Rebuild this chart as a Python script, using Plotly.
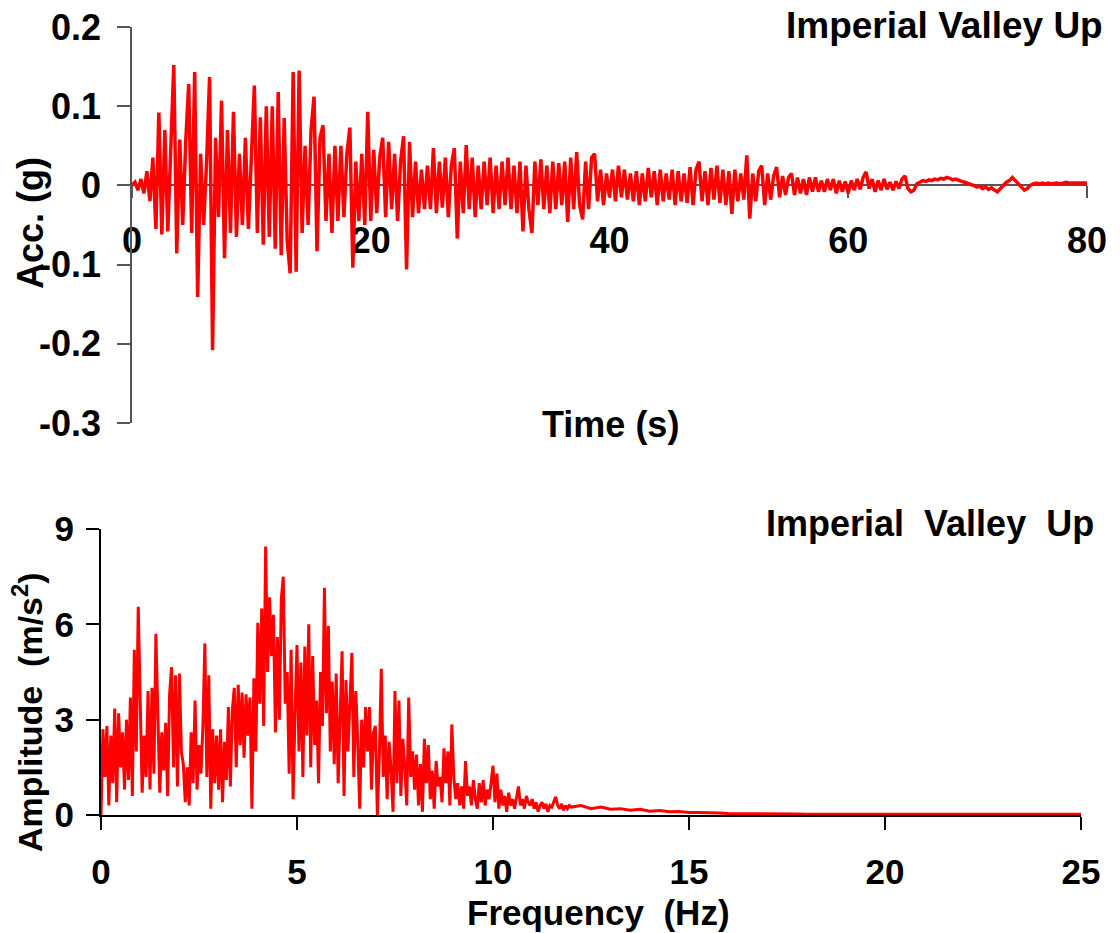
import numpy as np
import plotly.graph_objects as go

# ---------------- data ----------------
dt = 0.25
acc_g = [
    0.000, 0.004, -0.006, 0.008, -0.010, 0.018, -0.020, 0.035, -0.055, 0.092,
    -0.062, 0.070, -0.058, 0.062, 0.152, -0.086, 0.058, -0.050, 0.055, 0.128,
    -0.060, 0.143, -0.141, 0.040, -0.050, 0.030, 0.137, -0.208, 0.060, -0.040,
    0.107, -0.092, 0.070, -0.060, 0.093, -0.065, 0.040, -0.050, 0.060, -0.055,
    0.035, 0.126, -0.060, 0.086, -0.075, 0.100, -0.065, 0.100, -0.080, 0.118,
    -0.088, 0.085, -0.070, -0.111, 0.143, -0.109, 0.145, -0.060, 0.050, -0.050,
    0.070, 0.112, -0.083, 0.060, 0.076, -0.045, 0.040, -0.060, 0.050, -0.045,
    0.050, -0.040, 0.040, 0.073, -0.104, 0.030, -0.045, 0.040, -0.050, 0.093,
    -0.045, 0.045, -0.035, 0.035, 0.060, -0.040, 0.055, -0.030, 0.040, -0.045,
    0.030, 0.062, -0.106, 0.055, -0.040, 0.030, -0.035, 0.020, -0.030, 0.025,
    -0.030, 0.047, -0.035, 0.030, -0.028, 0.035, -0.040, 0.025, 0.047, -0.067,
    0.030, -0.035, 0.051, -0.030, 0.035, -0.040, 0.025, -0.030, 0.030, -0.025,
    0.035, -0.035, 0.025, -0.030, 0.030, -0.025, 0.035, -0.030, 0.025, -0.035,
    0.030, -0.058, 0.025, -0.030, -0.060, 0.030, -0.025, 0.033, -0.030, 0.025,
    -0.035, 0.030, -0.030, 0.028, -0.025, 0.030, -0.046, 0.035, -0.030, 0.042,
    -0.025, -0.043, 0.030, -0.030, 0.035, 0.040, -0.020, 0.020, -0.025, 0.015,
    -0.015, 0.020, -0.020, 0.025, -0.015, 0.020, -0.018, 0.015, -0.020, 0.018,
    -0.025, 0.015, -0.020, 0.022, -0.015, 0.018, -0.025, 0.020, -0.020, 0.015,
    -0.018, 0.020, -0.025, 0.018, -0.020, 0.015, -0.022, 0.023, -0.025, 0.020,
    0.030, -0.020, 0.018, -0.025, 0.022, -0.018, 0.025, -0.022, 0.020, -0.025,
    0.018, -0.036, 0.020, -0.020, 0.015, -0.018, 0.038, -0.042, 0.015, -0.020,
    0.018, 0.025, -0.025, 0.015, -0.018, 0.012, 0.023, -0.015, 0.012, -0.012,
    0.010, 0.015, -0.012, 0.010, -0.010, 0.008, -0.012, 0.010, -0.008, 0.010,
    -0.008, 0.006, -0.008, 0.008, -0.006, 0.008, -0.010, 0.006, -0.008, 0.005,
    -0.010, 0.006, -0.006, 0.008, -0.005, 0.010, 0.017, -0.004, 0.008, -0.008,
    0.006, -0.006, 0.008, -0.005, 0.004, -0.006, 0.005, -0.004, 0.008, 0.012,
    -0.004, -0.008, -0.006, 0.002, 0.004, 0.006, 0.005, 0.007, 0.006, 0.008,
    0.007, 0.009, 0.008, 0.010, 0.009, 0.007, 0.008, 0.006, 0.005, 0.004,
    0.003, 0.002, 0.000, -0.002, -0.001, -0.004, -0.002, -0.005, -0.003, -0.006,
    -0.008, -0.004, 0.000, 0.004, 0.006, 0.010, 0.006, 0.002, -0.003, -0.006,
    -0.004, 0.000, 0.002, 0.003, 0.002, 0.003, 0.002, 0.003, 0.002, 0.003,
    0.003, 0.002, 0.003, 0.004, 0.003, 0.003, 0.004, 0.003, 0.003, 0.004,
    0.003,
]
time_s = np.arange(len(acc_g)) * dt

# Fourier amplitude: 0-12 Hz at 0.05 Hz, 12-25 Hz at 0.25 Hz
amp_low = [
    0.0, 2.7, 1.2, 2.8, 0.3, 2.5, 1.0, 3.35, 0.4, 3.2, 1.5, 2.6, 0.8, 3.0, 1.1, 3.7, 0.6, 5.2, 2.0, 6.55,
    3.6, 0.7, 2.5, 1.2, 3.9, 0.8, 4.0, 1.3, 5.7, 2.8, 0.7, 2.6, 1.4, 2.9, 0.6, 3.8, 4.65, 1.5, 4.4, 0.9,
    4.45, 2.0, 1.6, 0.4, 1.5, 0.3, 2.6, 1.0, 3.6, 0.8, 2.2, 1.3, 2.8, 5.4, 1.2, 4.4, 0.2, 2.7, 1.0, 2.5,
    0.8, 2.7, 0.4, 2.3, 1.1, 3.4, 0.9, 3.3, 4.0, 1.5, 4.1, 2.2, 3.85, 1.8, 3.8, 2.5, 3.7, 0.2, 4.3, 2.0,
    6.05, 3.5, 6.5, 2.8, 8.45, 4.5, 6.85, 5.0, 6.3, 2.6, 5.6, 3.0, 6.8, 7.5, 3.5, 4.5, 1.3, 5.2, 0.5, 3.2,
    5.35, 2.0, 4.8, 1.2, 5.3, 2.5, 6.0, 1.5, 5.0, 2.2, 3.6, 1.0, 4.5, 2.8, 7.15, 3.2, 5.95, 2.0, 4.2, 1.6,
    4.45, 1.0, 3.2, 5.15, 0.6, 4.25, 2.0, 3.5, 5.1, 1.2, 3.9, 2.3, 0.2, 3.0, 1.5, 3.4, 2.0, 3.4, 0.8, 2.6,
    2.8, 0.0, 1.8, 4.6, 1.2, 2.5, 0.5, 2.3, 1.4, 0.1, 3.9, 1.0, 3.6, 0.6, 2.4, 1.5, 0.3, 3.7, 1.2, 2.0,
    0.8, 1.9, 0.3, 1.6, 0.1, 2.4, 1.0, 2.2, 0.5, 1.4, 0.2, 1.7, 0.9, 1.2, 0.4, 2.1, 1.0, 2.0, 0.3, 2.85,
    1.2, 0.5, 1.0, 0.3, 0.9, 0.2, 1.7, 0.6, 0.9, 0.3, 1.1, 0.5, 0.2, 1.0, 0.4, 1.1, 0.3, 0.8, 0.5, 1.0,
    1.55, 0.4, 1.3, 0.2, 0.8, 0.3, 0.6, 0.1, 0.7, 0.3, 0.5, 0.2, 0.6, 0.9, 0.3, 0.5, 0.2, 0.6, 0.4, 0.3,
    0.5, 0.2, 0.4, 0.1, 0.3, 0.4, 0.2, 0.35, 0.1, 0.3, 0.25, 0.4, 0.57, 0.3, 0.2, 0.35, 0.15, 0.3, 0.2, 0.3,
]
amp_high = [
    0.25, 0.30, 0.20, 0.25, 0.18, 0.20, 0.15, 0.18, 0.12, 0.14, 0.10, 0.11, 0.08,
    0.08, 0.06, 0.06, 0.05, 0.05, 0.04, 0.04, 0.04, 0.03, 0.03, 0.03, 0.025, 0.025,
    0.02, 0.025, 0.02, 0.02, 0.025, 0.02, 0.02, 0.02, 0.025, 0.02, 0.02, 0.02, 0.02,
    0.02, 0.02, 0.02, 0.02, 0.02, 0.02, 0.02, 0.02, 0.02, 0.02, 0.02, 0.02, 0.02, 0.02,
]
freq_low = np.arange(len(amp_low)) * 0.05
freq_high = 12.0 + np.arange(len(amp_high)) * 0.25
freq_hz = np.concatenate([freq_low, freq_high])
amplitude = amp_low + amp_high

top_y_ticks = [-0.3, -0.2, -0.1, 0, 0.1, 0.2]
top_y_text = ["-0.3", "-0.2", "-0.1", "0", "0.1", "0.2"]
top_x_ticks = [0, 20, 40, 60, 80]
bot_x_ticks = [0, 5, 10, 15, 20, 25]
bot_y_ticks = [0, 3, 6, 9]

# ---------------- figure ----------------
W, H = 1120, 933
FONT = "Liberation Sans, Arial, sans-serif"
RED = "#ff0000"

def px(x):
    return x / W

def py(y):
    return 1 - y / H

top_xdom = [px(132), px(1087)]
top_ydom = [py(423), py(27)]
bot_xdom = [px(101), px(1081)]
bot_ydom = [py(815), py(529)]
zero_pos = top_ydom[0] + 0.6 * (top_ydom[1] - top_ydom[0])

fig = go.Figure()
fig.add_trace(go.Scatter(x=time_s, y=acc_g, mode="lines",
                         line=dict(color=RED, width=3.5), xaxis="x", yaxis="y",
                         showlegend=False, hoverinfo="skip"))
fig.add_trace(go.Scatter(x=freq_hz, y=amplitude, mode="lines",
                         line=dict(color=RED, width=3), xaxis="x2", yaxis="y2",
                         showlegend=False, hoverinfo="skip"))

tick_top = dict(family=FONT, size=36, color="black", weight="bold")
tick_bot = dict(family=FONT, size=35, color="black", weight="bold")

fig.update_layout(
    width=W, height=H, autosize=False,
    margin=dict(l=0, r=0, t=0, b=0),
    paper_bgcolor="white", plot_bgcolor="white",
    xaxis=dict(domain=top_xdom, range=[0, 80], anchor="free", position=zero_pos,
               tickvals=top_x_ticks, ticks="outside", ticklen=12, tickwidth=1.5,
               tickcolor="#555", showline=True, linecolor="#555", linewidth=1.5,
               showgrid=False, zeroline=False, tickfont=tick_top,
               ticklabelstandoff=12, layer="below traces", automargin=False),
    yaxis=dict(domain=top_ydom, range=[-0.3, 0.2], anchor="x",
               tickvals=top_y_ticks, ticktext=top_y_text, ticks="outside",
               ticklen=13, tickwidth=1.5, tickcolor="#555", showline=True,
               linecolor="#555", linewidth=1.5, showgrid=False, zeroline=False,
               tickfont=tick_top, ticklabelstandoff=9, automargin=False),
    xaxis2=dict(domain=bot_xdom, range=[0, 25], anchor="y2",
                tickvals=bot_x_ticks, ticks="outside", ticklen=13, tickwidth=2,
                tickcolor="black", showline=True, linecolor="black", linewidth=2,
                showgrid=False, zeroline=False, tickfont=tick_bot,
                ticklabelstandoff=12, layer="below traces", automargin=False),
    yaxis2=dict(domain=bot_ydom, range=[0, 9], anchor="x2",
                tickvals=bot_y_ticks, ticks="outside", ticklen=13, tickwidth=2,
                tickcolor="black", showline=True, linecolor="black", linewidth=2,
                showgrid=False, zeroline=False, tickfont=tick_bot,
                ticklabelstandoff=5, automargin=False),
)

def label(text, x, y, size, angle=0, xanchor="center"):
    fig.add_annotation(text=text, xref="paper", yref="paper", x=px(x), y=py(y),
                       xanchor=xanchor, yanchor="middle", showarrow=False,
                       textangle=angle,
                       font=dict(family=FONT, size=size, color="black", weight="bold"))

label("Imperial Valley Up", 1105, 25, 37, xanchor="right")
label("Time (s)", 610, 424, 36)
label("Acc. (g)", 30, 223, 36, angle=-90)
label("Imperial  Valley  Up", 1096, 523, 36, xanchor="right")
label("Frequency  (Hz)", 598, 912, 35)
label("Amplitude  (m/s<sup>2</sup>)", 27, 712, 34, angle=-90)

fig.write_html("out.html")
